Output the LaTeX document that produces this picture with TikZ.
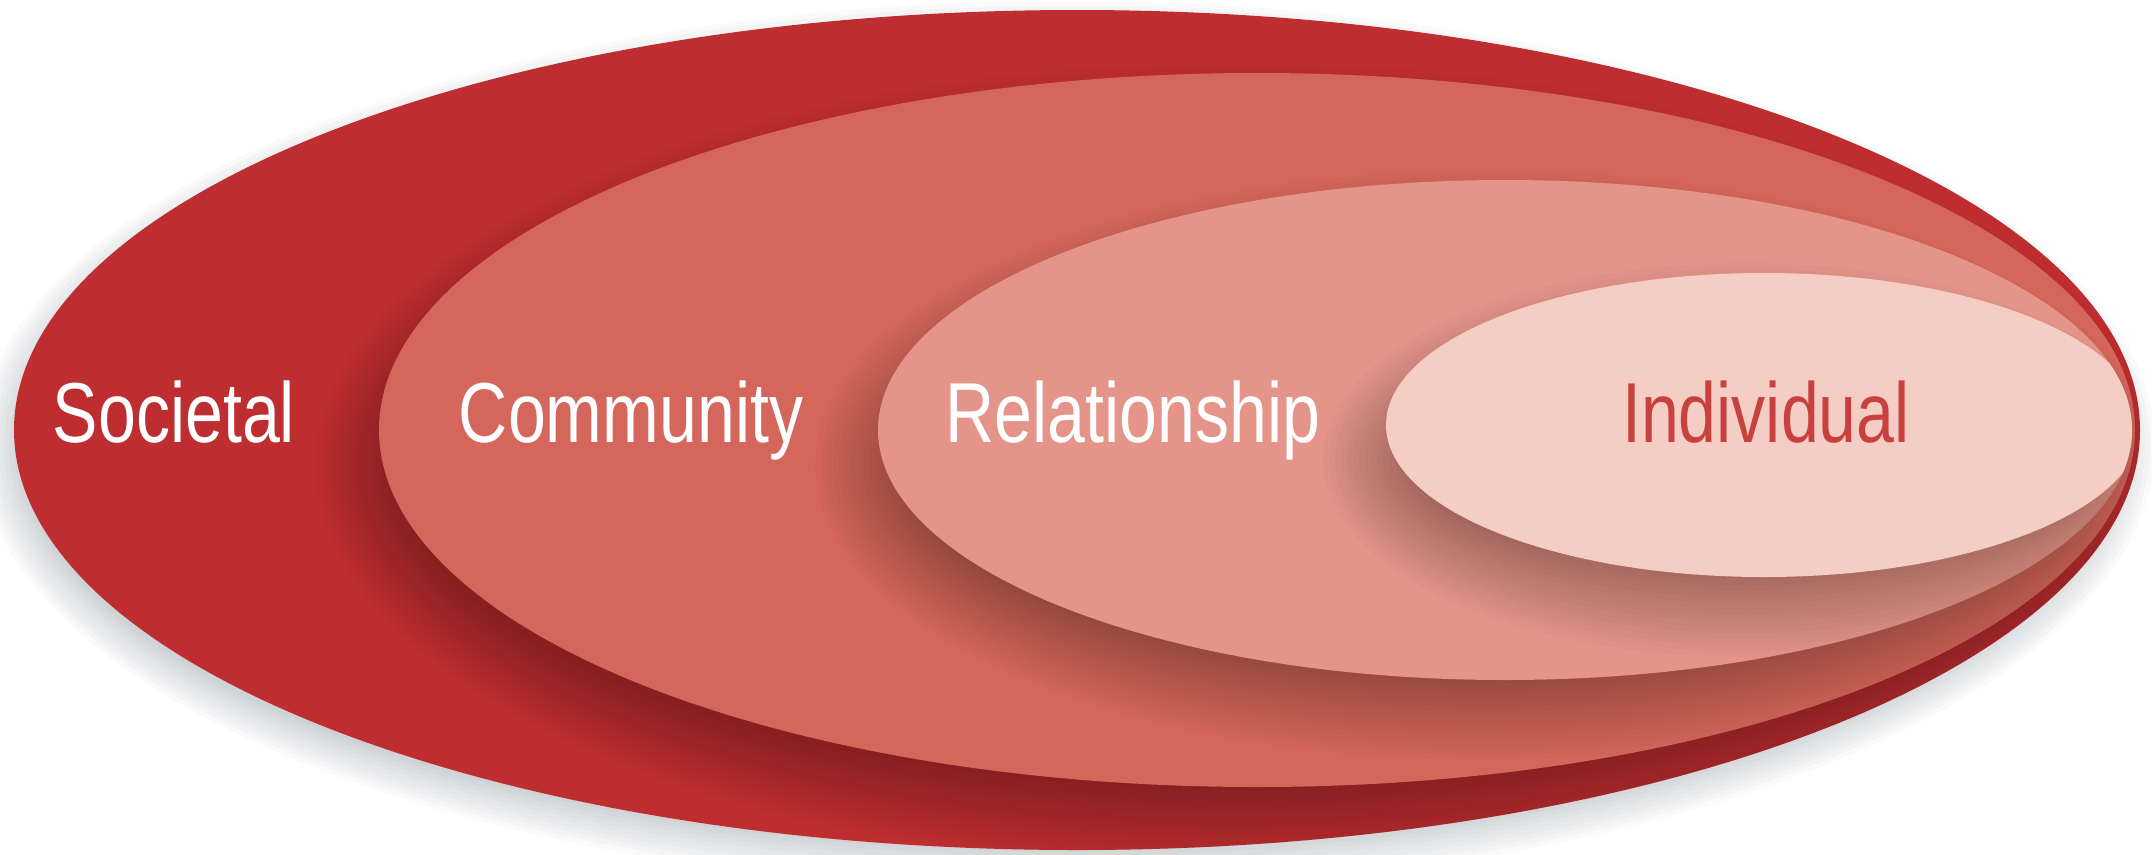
\documentclass[tikz,border=0pt]{standalone}
\usepackage{fontspec}
\setmainfont{Liberation Sans}
\definecolor{societal}{HTML}{BE2D2F}
\definecolor{community}{HTML}{D5665B}
\definecolor{relationship}{HTML}{E5948A}
\definecolor{individual}{HTML}{F4CEC5}
\definecolor{indtext}{HTML}{C8413F}
\definecolor{pagegray}{HTML}{2E3A48}

% narrow label text
\newcommand\narrowtext[1]{\scalebox{0.8}[1]{#1}}
% soft shadow of one level, cast down-left onto the level below
\newcommand\levelshadow[4]{%
  \foreach \k in {-45,-39,...,45}
    \fill[black, opacity=0.018] (#1-18,#2+35) ellipse [x radius=#3+\k, y radius=#4+\k];}

\begin{document}
\begin{tikzpicture}[x=0.01cm, y=-0.01cm, every node/.style={font=\fontsize{24.2}{29}\selectfont, anchor=base},
    ring/.style={text=white}]
   \useasboundingbox (0,0) rectangle (2152,854);

   % outer level and its shadow on the page
   \foreach \k in {-25,-20,...,25}
     \fill[pagegray, opacity=0.028] (1067,446) ellipse [x radius=1063+\k, y radius=420+\k];
   \fill[societal] (1077,430) ellipse [x radius=1063, y radius=420];

   \begin{scope}
     \clip (1077,430) ellipse [x radius=1063, y radius=420];
     \levelshadow{1257}{430}{878}{357}
     \fill[community] (1257,430) ellipse [x radius=878, y radius=357];
   \end{scope}
   \begin{scope}
     \clip (1257,430) ellipse [x radius=878, y radius=357];
     \levelshadow{1505}{430}{627}{250}
     \fill[relationship] (1505,430) ellipse [x radius=627, y radius=250];
   \end{scope}
   \begin{scope}
     \clip (1505,430) ellipse [x radius=627, y radius=250];
     \levelshadow{1764}{425}{378}{152}
     \fill[individual] (1764,425) ellipse [x radius=378, y radius=152];
   \end{scope}

   \node[ring] (soc) at (174,442) {\narrowtext{Societal}};
   \node[ring] (com) at (631,442) {\narrowtext{Community}};
   \node[ring] (rel) at (1133,442) {\narrowtext{Relationship}};
   \node[text=indtext] (ind) at (1766,442) {\narrowtext{Individual}};
\end{tikzpicture}
\end{document}
